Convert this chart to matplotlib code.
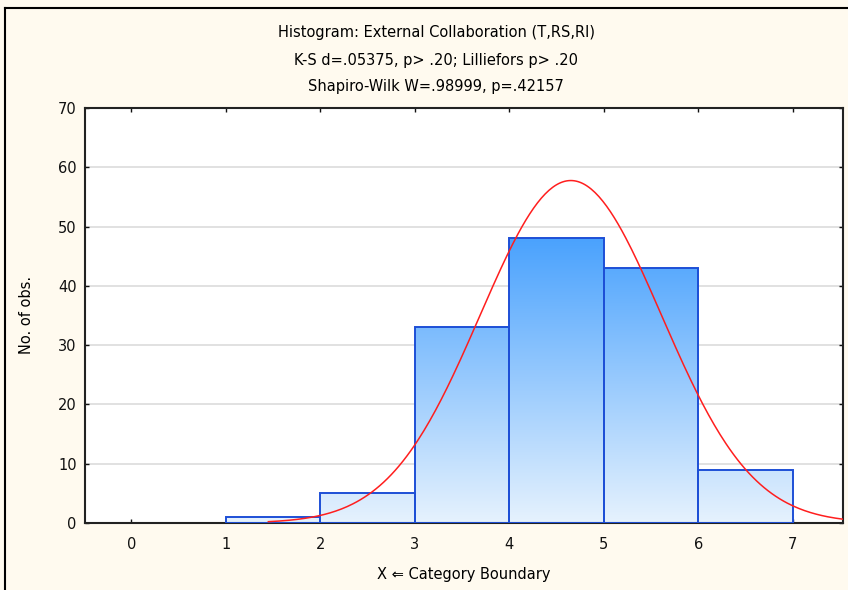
import matplotlib.pyplot as plt
import matplotlib.colors as mcolors
import numpy as np
from matplotlib.patches import Rectangle
from matplotlib.lines import Line2D

# histogram bins (left edges) and counts
bin_edges = [1, 2, 3, 4, 5, 6, 7]
counts = [1, 5, 33, 48, 43, 9]
# fitted normal parameters
fit_mean = 4.65
fit_sd = 0.96
x_ticks = [0, 1, 2, 3, 4, 5, 6, 7]
y_ticks = [0, 10, 20, 30, 40, 50, 60, 70]
title_lines = ["Histogram: External Collaboration (T,RS,RI)",
               "K-S d=.05375, p> .20; Lilliefors p> .20",
               "Shapiro-Wilk W=.98999, p=.42157"]

plt.rcParams['font.family'] = ['DejaVu Sans']
fs = 10.5

fig = plt.figure(figsize=(8.48, 5.90), dpi=100)
fig.patch.set_facecolor('#fffaef')
ax = fig.add_axes([85/848, 1-523/590, (843-85)/848, (523-108)/590])
ax.set_facecolor('white')

# outer frame lines
fig.add_artist(Line2D([5/848, 1.0], [1-8/590, 1-8/590], color='black', lw=1.5, transform=fig.transFigure))
fig.add_artist(Line2D([5/848, 5/848], [0.0, 1-8/590], color='black', lw=1.5, transform=fig.transFigure))

ax.set_xticks(x_ticks)
ax.set_yticks(y_ticks)
ax.yaxis.grid(True, color='#dcdcdc', lw=1.2)
ax.set_axisbelow(True)

# gradient fill for bars
cmap = mcolors.LinearSegmentedColormap.from_list('blu', ['#e6f2fd', '#4aa2fe'])
grad = np.linspace(0, 1, 256).reshape(-1, 1)
top = max(counts)
total = sum(counts)
width = bin_edges[1] - bin_edges[0]
for left, c in zip(bin_edges[:-1], counts):
    rect = Rectangle((left, 0), width, c, facecolor='none', edgecolor='#1d4fd6', lw=1.4, zorder=3)
    ax.add_patch(rect)
    im = ax.imshow(grad, cmap=cmap, origin='lower', extent=[left, left + width, 0, top],
                   aspect='auto', zorder=2)
    im.set_clip_path(rect)

# fitted normal curve
xs = np.linspace(1.45, 7.53, 300)
ys = total * width / (fit_sd * np.sqrt(2 * np.pi)) * np.exp(-0.5 * ((xs - fit_mean) / fit_sd) ** 2)
ax.plot(xs, ys, color='#ff1e1e', lw=1.1, zorder=4)
ax.set_xlim(-0.49, 7.53)
ax.set_ylim(0, 70)

for s in ax.spines.values():
    s.set_color('#222222')
    s.set_linewidth(1.5)
ax.tick_params(direction='in', length=3, width=1, top=True, right=True,
               labelsize=fs, colors='#111111', pad=10)
ax.tick_params(axis='y', pad=6)

for i, line in enumerate(title_lines):
    fig.text(436/848, 1-(33 + 27*i)/590, line, ha='center', va='center', fontsize=fs)

fig.text(27/848, 1-315/590, "No. of obs.", rotation=90, ha='center', va='center', fontsize=fs)
fig.text(464/848, 1-575/590, "X \u21d0 Category Boundary", ha='center', va='center', fontsize=fs)

plt.savefig('out.png', dpi=100, facecolor=fig.get_facecolor())
